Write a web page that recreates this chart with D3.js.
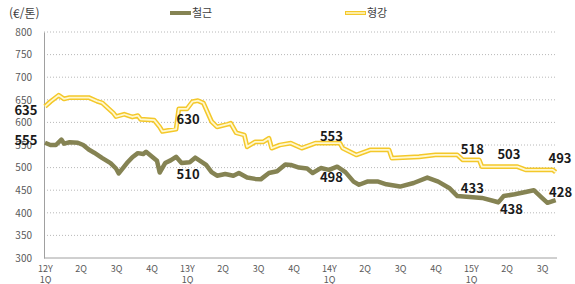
<!DOCTYPE html>
<html lang="ko">
<head>
<meta charset="utf-8">
<title>철근 / 형강</title>
<script src="https://cdn.jsdelivr.net/npm/d3@7"></script>
<style>
  body { margin: 0; background: #fff; }
  text { font-family: "Noto Sans CJK KR", "Noto Sans", sans-serif; }
</style>
</head>
<body>
<script>
// weekly series, x = weeks since 2012 Q1
var rebarWeeks = [0, 2, 4, 6, 7, 9, 12, 14, 16, 18, 21, 24, 26, 27, 30, 32, 34, 36, 37, 39, 41, 42, 44, 46, 48, 50, 53, 55, 59, 61, 63, 66, 69, 71, 74, 77, 79, 82, 85, 88, 90, 93, 96, 98, 101, 104, 107, 110, 113, 115, 118, 122, 125, 130, 135, 140, 144, 148, 151, 160, 165, 166, 168, 172, 176, 179, 182, 184, 187];
var rebarValues = [555, 550, 550, 562, 553, 556, 555, 550, 540, 533, 521, 510, 498, 487, 510, 523, 532, 530, 535, 525, 515, 489, 510, 516, 524, 510, 512, 522, 506, 490, 482, 486, 482, 488, 478, 475, 474, 488, 492, 507, 506, 500, 498, 488, 499, 495, 502, 490, 469, 462, 469, 469, 463, 458, 466, 478, 469, 455, 437, 433, 425, 423, 437, 441, 446, 450, 433, 422, 428];

var beamWeeks = [0, 2, 5, 7, 9, 16, 19, 21, 25, 26, 29, 32, 34, 35, 40, 42, 43, 48, 49, 52, 54, 56, 58, 61, 63, 67, 68, 70, 73, 74, 77, 80, 82, 83, 86, 90, 94, 99, 108, 109, 114, 119, 126, 127, 137, 143, 151, 153, 159, 160, 173, 176, 186, 187];
var beamValues = [635, 646, 660, 652, 655, 655, 647, 643, 621, 613, 618, 612, 615, 607, 605, 590, 580, 585, 630, 630, 646, 648, 643, 602, 590, 596, 598, 577, 572, 546, 557, 557, 565, 543, 550, 554, 543, 554, 554, 543, 528, 539, 539, 521, 524, 528, 528, 517, 517, 502, 502, 495, 495, 490];

var tickWeeks = [0, 13, 26, 39, 52, 65, 78, 91, 104, 117, 130, 143, 156, 169, 182];
var tickLabels = ["12Y|1Q", "2Q", "3Q", "4Q", "13Y|1Q", "2Q", "3Q", "4Q", "14Y|1Q", "2Q", "3Q", "4Q", "15Y|1Q", "2Q", "3Q"];
var yTicks = [300, 350, 400, 450, 500, 550, 600, 650, 700, 750, 800];

var labelTexts = ["635", "555", "630", "510", "553", "498", "518", "503", "493", "433", "438", "428"];
var labelWeeks = [-7, -7, 52.4, 52.4, 104.9, 104.9, 156.5, 169.9, 188.6, 156.5, 170.8, 188.8];
var labelValues = [616, 550, 596, 475, 559, 468, 530, 519, 510, 444, 397, 435];

var seriesNames = ["철근", "형강"];

var w = 575, h = 284;
var svg = d3.select("body").append("svg").attr("width", w).attr("height", h);

var x = d3.scaleLinear().domain([0, 182]).range([45, 542]);
var y = d3.scaleLinear().domain([300, 800]).range([258, 32]);
var xEnd = x(187.5);

// gridlines
svg.append("g").selectAll("line")
  .data(yTicks.filter(function(d) { return d > 300; }))
  .enter().append("line")
  .attr("x1", 44).attr("x2", xEnd)
  .attr("y1", function(d) { return y(d); })
  .attr("y2", function(d) { return y(d); })
  .attr("stroke", "#a6a6a6")
  .attr("stroke-width", 0.8)
  .attr("stroke-dasharray", "1,2");

// axes
var yAxis = d3.axisLeft(y).tickValues(yTicks).tickSize(0).tickPadding(12);
svg.append("g").attr("transform", "translate(44,0)").call(yAxis)
  .call(function(g) {
    g.select(".domain").attr("stroke", "#a0a0a0");
    g.selectAll("text").style("font-size", "10px").attr("fill", "#595959");
  });

var xAxis = d3.axisBottom(x).tickValues(tickWeeks).tickSize(0).tickFormat("");
var xg = svg.append("g").attr("transform", "translate(0,258)").call(xAxis);
xg.select(".domain").attr("d", "M44,0H" + xEnd).attr("stroke", "#a0a0a0");
xg.selectAll(".tick").append("text")
  .attr("fill", "#595959")
  .style("font-size", "9px")
  .attr("text-anchor", "middle")
  .each(function(d, i) {
    var parts = tickLabels[i].split("|");
    var t = d3.select(this);
    parts.forEach(function(p, j) {
      t.append("tspan").attr("x", 0).attr("y", 14 + j * 11).text(p);
    });
  });

// lines
var rebar = rebarWeeks.map(function(d, i) { return [d, rebarValues[i]]; });
var beam = beamWeeks.map(function(d, i) { return [d, beamValues[i]]; });
var line = d3.line()
  .x(function(d) { return x(d[0]); })
  .y(function(d) { return y(d[1]); });

svg.append("path").datum(rebar).attr("d", line)
  .attr("fill", "none").attr("stroke", "#858353").attr("stroke-width", 4.5)
  .attr("stroke-linejoin", "round");

svg.append("path").datum(beam).attr("d", line)
  .attr("fill", "none").attr("stroke", "#f4c82a").attr("stroke-width", 4.8)
  .attr("stroke-linejoin", "round");
svg.append("path").datum(beam).attr("d", line)
  .attr("fill", "none").attr("stroke", "#fff8cf").attr("stroke-width", 1.8)
  .attr("stroke-linejoin", "round");

// data labels
svg.append("g").selectAll("text")
  .data(labelTexts)
  .enter().append("text")
  .attr("x", function(d, i) { return x(labelWeeks[i]); })
  .attr("y", function(d, i) { return y(labelValues[i]); })
  .attr("text-anchor", "middle")
  .style("font-size", "13px")
  .style("font-weight", "bold")
  .attr("fill", "#1a1a1a")
  .text(function(d) { return d; });

// unit
svg.append("text").attr("x", 9).attr("y", 18)
  .style("font-size", "12px").attr("fill", "#404040").text("(€/톤)");

// legend
var legendX = [170, 345];
var lg = svg.append("g").selectAll("g").data(seriesNames).enter().append("g")
  .attr("transform", function(d, i) { return "translate(" + legendX[i] + ",13)"; });
lg.append("line").attr("x1", 0).attr("x2", 21).attr("y1", 0).attr("y2", 0)
  .attr("stroke", function(d, i) { return i === 0 ? "#858353" : "#f4c82a"; })
  .attr("stroke-width", 4);
lg.filter(function(d, i) { return i === 1; }).append("line")
  .attr("x1", 1).attr("x2", 20).attr("y1", 0).attr("y2", 0)
  .attr("stroke", "#fff8cf").attr("stroke-width", 1.5);
lg.append("text").attr("x", 22).attr("y", 4)
  .style("font-size", "11px").attr("fill", "#404040")
  .text(function(d) { return d; });
</script>
</body>
</html>
